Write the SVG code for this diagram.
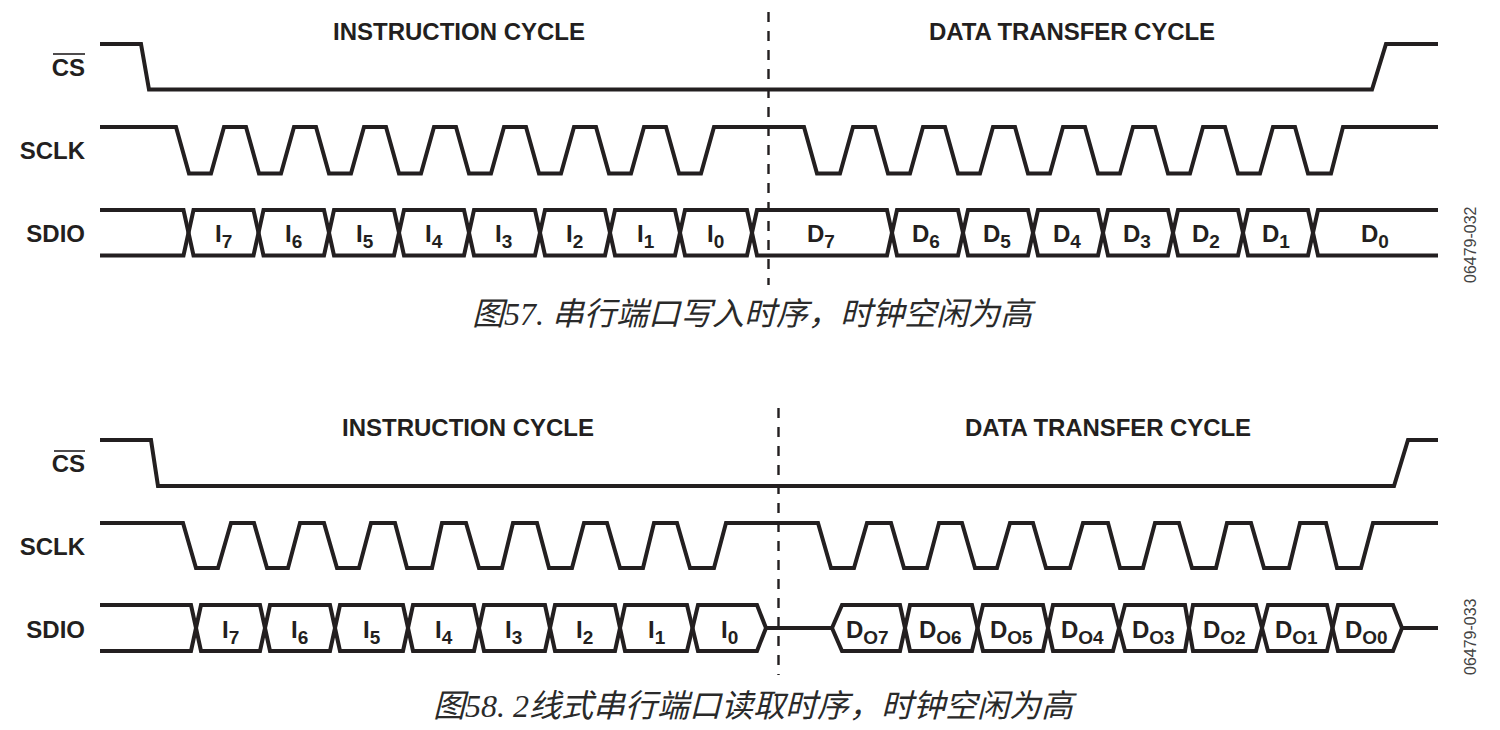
<svg xmlns="http://www.w3.org/2000/svg" width="1500" height="730" viewBox="0 0 1500 730">
<style>
.w{fill:none;stroke:#231f20;stroke-width:4;stroke-linejoin:miter}
.d{fill:none;stroke:#231f20;stroke-width:2.4;stroke-dasharray:10 9}
.o{fill:none;stroke:#231f20;stroke-width:1.6}
text{font-family:"Liberation Sans",Arial,sans-serif;fill:#231f20}
.b{font-weight:700;font-size:24px}
.t{letter-spacing:-.08px}
.r{text-anchor:end}
.v{font-weight:700;font-size:24px;text-anchor:start}
.s{font-size:19px}
.c{font-family:"Liberation Serif","Noto Sans CJK SC",serif;font-style:italic;font-size:32px;fill:#2a2a2a}
.n{font-size:16px;fill:#444}
</style>
<rect width="1500" height="730" fill="#fff"/>
<g id="fig57-connectors">
<path class="w" d="M100 44H141L149 89.500H1372L1386 44H1438"/>
<path class="w" d="M100 127H176L189 173.500H211L224 127H246L259 173.500H281L294 127H316L329 173.500H351L364 127H386L399 173.500H421L434 127H456L469 173.500H491L504 127H526L539 173.500H561L574 127H596L609 173.500H631L644 127H666L679 173.500H701L714 127H804L817 173.500H840L853 127H875L888 173.500H910L923 127H945L958 173.500H980L993 127H1015L1028 173.500H1050L1063 127H1085L1098 173.500H1120L1133 127H1155L1168 173.500H1190L1203 127H1225L1238 173.500H1260L1273 127H1295L1308 173.500H1331L1343 127H1438"/>
<path class="w" d="M100 210H183.500L193.500 255.500H253.500L263.500 210H324L334 255.500H394L404 210H464L474 255.500H535L545 210H605L615 255.500H675L685 210H747L757 255.500H887L897 210H958L968 255.500H1028L1038 210H1098L1108 255.500H1168L1178 210H1238L1248 255.500H1308L1318 210H1438"/>
<path class="w" d="M100 255.500H183.500L193.500 210H253.500L263.500 255.500H324L334 210H394L404 255.500H464L474 210H535L545 255.500H605L615 210H675L685 255.500H747L757 210H887L897 255.500H958L968 210H1028L1038 255.500H1098L1108 210H1168L1178 255.500H1238L1248 210H1308L1318 255.500H1438"/>
<path class="d" d="M768.500 12V285"/>
</g>
<g id="fig57-labels">
<text class="b" x="333" y="40">INSTRUCTION CYCLE</text>
<text class="b t" x="929" y="40">DATA TRANSFER CYCLE</text>
<text class="b r" x="85" y="76">CS</text><path class="o" d="M53 54H85"/>
<text class="b r" x="85" y="159">SCLK</text>
<text class="b r" x="85" y="242">SDIO</text>
<text class="v" x="215" y="242">I<tspan class="s" dy="5.500">7</tspan></text>
<text class="v" x="285" y="242">I<tspan class="s" dy="5.500">6</tspan></text>
<text class="v" x="356" y="242">I<tspan class="s" dy="5.500">5</tspan></text>
<text class="v" x="425" y="242">I<tspan class="s" dy="5.500">4</tspan></text>
<text class="v" x="495" y="242">I<tspan class="s" dy="5.500">3</tspan></text>
<text class="v" x="566" y="242">I<tspan class="s" dy="5.500">2</tspan></text>
<text class="v" x="637" y="242">I<tspan class="s" dy="5.500">1</tspan></text>
<text class="v" x="707" y="242">I<tspan class="s" dy="5.500">0</tspan></text>
<text class="v" x="807" y="242">D<tspan class="s" dy="5.500">7</tspan></text>
<text class="v" x="912" y="242">D<tspan class="s" dy="5.500">6</tspan></text>
<text class="v" x="983" y="242">D<tspan class="s" dy="5.500">5</tspan></text>
<text class="v" x="1053" y="242">D<tspan class="s" dy="5.500">4</tspan></text>
<text class="v" x="1123" y="242">D<tspan class="s" dy="5.500">3</tspan></text>
<text class="v" x="1192" y="242">D<tspan class="s" dy="5.500">2</tspan></text>
<text class="v" x="1262" y="242">D<tspan class="s" dy="5.500">1</tspan></text>
<text class="v" x="1361" y="242">D<tspan class="s" dy="5.500">0</tspan></text>
<text class="n" transform="translate(1476 283) rotate(-90)">06479-032</text>
<text class="c" x="472" y="325">图57. 串行端口写入时序，时钟空闲为高</text>
</g>
<g id="fig58-connectors">
<path class="w" d="M100 440H151L158 486H1394L1408 440H1438"/>
<path class="w" d="M100 523H183L196 568H218L231 523H254L267 568H288L300 523H324L337 568H359L371 523H395L407 568H432L442 523H466L479 568H502L513 523H537L549 568H572L584 523H607L620 568H643L654 523H677L690 568H714L726 523H818L831 568H854L867 523H891L904 568H927L939 523H962L975 568H997L1010 523H1033L1046 568H1070L1083 523H1108L1120 568H1143L1155 523H1179L1192 568H1216L1227 523H1251L1264 568H1289L1300 523H1326L1337 568H1361L1373 523H1438"/>
<path class="w" d="M100 605H191L201 651H260L270 605H330L340 651H403L413 605H474L484 651H545L555 605H615L625 651H687L698 605H757L766 628H832L842 605H900L910 651H972L983 605H1043L1053 651H1113L1125 605H1185L1193 651H1256L1268 605H1327L1338 651H1393L1402 628H1438"/>
<path class="w" d="M100 651H191L201 605H260L270 651H330L340 605H403L413 651H474L484 605H545L555 651H615L625 605H687L698 651H757L766 628M832 628L842 651H900L910 605H972L983 651H1043L1053 605H1113L1125 651H1185L1193 605H1256L1268 651H1327L1338 605H1393L1402 628"/>
<path class="d" d="M778.500 408V675"/>
</g>
<g id="fig58-labels">
<text class="b" x="342" y="436">INSTRUCTION CYCLE</text>
<text class="b t" x="965" y="436">DATA TRANSFER CYCLE</text>
<text class="b r" x="85" y="472">CS</text><path class="o" d="M54 451H85"/>
<text class="b r" x="85" y="555">SCLK</text>
<text class="b r" x="85" y="638">SDIO</text>
<text class="v" x="222" y="638">I<tspan class="s" dy="5.500">7</tspan></text>
<text class="v" x="291" y="638">I<tspan class="s" dy="5.500">6</tspan></text>
<text class="v" x="363" y="638">I<tspan class="s" dy="5.500">5</tspan></text>
<text class="v" x="435" y="638">I<tspan class="s" dy="5.500">4</tspan></text>
<text class="v" x="505" y="638">I<tspan class="s" dy="5.500">3</tspan></text>
<text class="v" x="576" y="638">I<tspan class="s" dy="5.500">2</tspan></text>
<text class="v" x="648" y="638">I<tspan class="s" dy="5.500">1</tspan></text>
<text class="v" x="721" y="638">I<tspan class="s" dy="5.500">0</tspan></text>
<text class="v" x="846" y="638">D<tspan class="s" dy="5.500">O7</tspan></text>
<text class="v" x="919" y="638">D<tspan class="s" dy="5.500">O6</tspan></text>
<text class="v" x="990" y="638">D<tspan class="s" dy="5.500">O5</tspan></text>
<text class="v" x="1061" y="638">D<tspan class="s" dy="5.500">O4</tspan></text>
<text class="v" x="1132" y="638">D<tspan class="s" dy="5.500">O3</tspan></text>
<text class="v" x="1203" y="638">D<tspan class="s" dy="5.500">O2</tspan></text>
<text class="v" x="1275" y="638">D<tspan class="s" dy="5.500">O1</tspan></text>
<text class="v" x="1345" y="638">D<tspan class="s" dy="5.500">O0</tspan></text>
<text class="n" transform="translate(1476 675) rotate(-90)">06479-033</text>
<text class="c" x="433" y="717">图58. 2线式串行端口读取时序，时钟空闲为高</text>
</g>
</svg>
